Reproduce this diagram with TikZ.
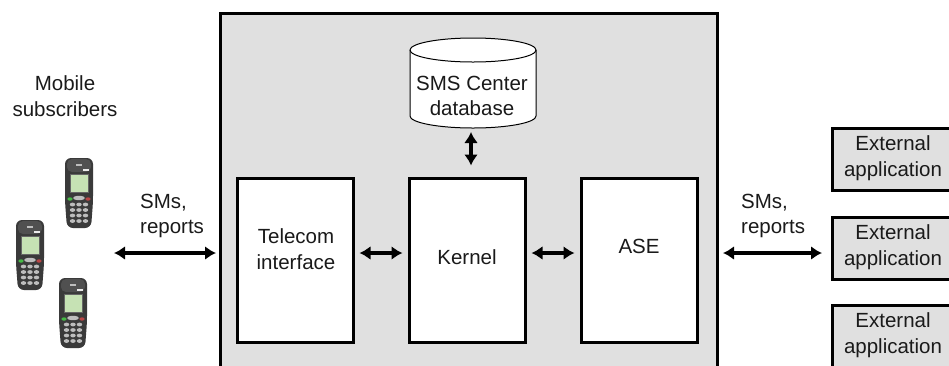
\documentclass[tikz,border=0pt]{standalone}
\usepackage{fontspec}
\setmainfont{Liberation Sans}
\usetikzlibrary{arrows.meta}
\definecolor{panel}{HTML}{E0E0E0}
\definecolor{ink}{HTML}{1A1A1A}
\definecolor{phonebody}{HTML}{3A3A3A}
\definecolor{phonetop}{HTML}{505050}
\definecolor{screen}{HTML}{C6E2B4}
\definecolor{keycol}{HTML}{BDBDBD}
\tikzset{
  txt/.style={font=\fontsize{20.5}{25.5}\selectfont, text=ink, inner sep=0pt, align=center},
  block/.style={draw=black, line width=3pt, fill=white, minimum width=116pt, minimum height=164pt, inner sep=0pt},
  extbox/.style={draw=black, line width=3pt, fill=panel, minimum width=124pt, minimum height=62pt, inner sep=0pt},
  link/.style={line width=3.6pt, {Latex[length=11pt,width=14pt]}-{Latex[length=11pt,width=14pt]}},
  phone/.pic={
    \fill[phonebody, rounded corners=6pt] (0,0) -- (28,0) -- (28,44) -- (26,70) -- (2,70) -- (0,44) -- cycle;
    \fill[phonetop, rounded corners=5pt] (2,1) rectangle (26,14);
    \fill[keycol] (11,6) rectangle (17,7.5);
    \fill[white!70!keycol] (18,11) rectangle (24,12.5);
    \fill[screen] (5,16) rectangle (23,34);
    \draw[black!60, line width=0.5pt] (5,16) rectangle (23,34);
    \fill[keycol] (14,40) ellipse[x radius=6, y radius=2.2];
    \fill[green!45!gray] (5,41) ellipse[x radius=2.6, y radius=1.7];
    \fill[red!45!gray] (23,41) ellipse[x radius=2.6, y radius=1.7];
    \foreach \r in {0,1,2,3}{
      \foreach \c in {0,1,2}{
        \fill[keycol] (7.5+6.5*\c,46.5+5.5*\r) ellipse[x radius=2.7, y radius=1.9];
      }
    }
  }
}
\begin{document}
\begin{tikzpicture}[x=1pt,y=-1pt]
\useasboundingbox (0,0) rectangle (949,365);
\clip (0,0) rectangle (949,365);

% central system panel, running past the lower edge
\node[draw=black, line width=3pt, fill=panel, minimum width=497pt, minimum height=400pt, inner sep=0pt, anchor=north west]
  (sys) at (219,12) {};

% SMS Center database cylinder
\draw[fill=white, draw=black, line width=1pt]
  (410,50) -- (410,116) arc[start angle=180, end angle=0, x radius=63, y radius=12]
  -- (536,50) arc[start angle=0, end angle=-180, x radius=63, y radius=12] -- cycle;
\draw[black, line width=1pt] (410,50) arc[start angle=180, end angle=0, x radius=63, y radius=12];
\node[txt] (db) at (472,96) {SMS Center\\database};
\coordinate (dbfoot) at (471,132);

% processing blocks
\node[block] (tel) at (295,260) {};
\node[block] (ker) at (467,260) {};
\node[block] (ase) at (639,260) {};
\node[txt] (telT) at (296,249) {Telecom\\interface};
\node[txt] (kerT) at (467,257) {Kernel};
\node[txt] (aseT) at (639,246) {ASE};

% external applications
\node[extbox] (ext1) at (894,159) {};
\node[extbox] (ext2) at (894,248) {};
\node[extbox] (ext3) at (894,336) {};
\node[txt] (ext1T) at (893,158) {External\\application};
\node[txt] (ext2T) at (893,247) {External\\application};
\node[txt] (ext3T) at (893,335) {External\\application};

% mobile subscribers
\node[txt] (mob) at (65,96) {Mobile\\subscribers};
\pic (ph1) at (65,158) {phone};
\pic (ph2) at (16,220) {phone};
\pic (ph3) at (59,278) {phone};

% message flow labels
\node[txt, align=left, anchor=west] (smsL) at (140,216) {SMs,\\reports};
\node[txt, align=left, anchor=west] (smsR) at (741,216) {SMs,\\reports};

% connectors
\coordinate (subs) at (114,253);
\coordinate (apps) at (822,253);
\draw[link] (subs) -- ([xshift=-3pt]sys.west |- subs);
\draw[link] ([xshift=5pt]tel.east |- 0,253) -- ([xshift=-5pt]ker.west |- 0,253);
\draw[link] ([xshift=5pt]ker.east |- 0,253) -- ([xshift=-5pt]ase.west |- 0,253);
\draw[link] ([xshift=4pt]sys.east |- apps) -- (apps);
\draw[link] (dbfoot) -- ([yshift=11pt]ker.north -| dbfoot);
\end{tikzpicture}
\end{document}
